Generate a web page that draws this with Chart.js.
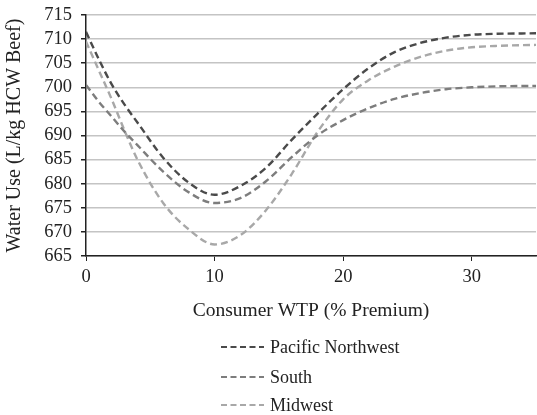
<!DOCTYPE html>
<html>
<head>
<meta charset="utf-8">
<script src="https://cdn.jsdelivr.net/npm/chart.js@4.4.1/dist/chart.umd.min.js"></script>
<style>
  html, body { margin: 0; padding: 0; background: #fff; }
  #wrap { width: 537px; height: 415px; position: relative; }
</style>
</head>
<body>
<div id="wrap"><canvas id="waterChart"></canvas></div>
<script>
// Consumer WTP (% premium)
const wtp = [0, 1, 2, 3, 4, 6, 8, 10, 12, 14, 16, 18, 20, 22, 24, 26, 28, 30, 32, 35];

// water use (L/kg HCW beef) per region
const pacificNorthwest = [711.5, 705.8, 700.6, 696.4, 692.7, 685.4, 680.2, 677.7, 679.5, 683.3, 689.1, 694.5, 699.6, 704.0, 707.3, 709.2, 710.3, 710.9, 711.1, 711.2];
const south = [700.5, 697.0, 693.9, 690.8, 688.0, 682.5, 678.2, 676.0, 677.0, 680.5, 685.5, 690.0, 693.2, 695.7, 697.6, 698.8, 699.6, 700.0, 700.2, 700.3];
const midwest = [709.5, 703.5, 697.5, 691.0, 685.0, 676.0, 670.5, 667.4, 669.3, 674.5, 682.0, 690.7, 697.5, 701.5, 704.3, 706.3, 707.6, 708.3, 708.6, 708.8];

const regionNames = ['Pacific Northwest', 'South', 'Midwest'];
const regionColors = ['#4a4a4a', '#7d7d7d', '#a8a8a8'];

const serif = '"Liberation Serif", "DejaVu Serif", serif';

function toPoints(vals) {
  return wtp.map((x, i) => ({ x: x, y: vals[i] }));
}

// legend stacked under the x axis title
const stackedLegend = {
  id: 'stackedLegend',
  afterDraw(chart) {
    const ctx = chart.ctx;
    const rows = [347, 377, 405];
    ctx.save();
    chart.data.datasets.forEach((ds, i) => {
      const y = rows[i];
      ctx.strokeStyle = ds.borderColor;
      ctx.lineWidth = 2.2;
      ctx.setLineDash([6, 3.5]);
      ctx.beginPath();
      ctx.moveTo(221, y);
      ctx.lineTo(264, y);
      ctx.stroke();
      ctx.setLineDash([]);
      ctx.fillStyle = '#222';
      ctx.font = '18px ' + serif;
      ctx.textBaseline = 'middle';
      ctx.textAlign = 'left';
      ctx.fillText(ds.label, 270, y + 1);
    });
    ctx.restore();
  }
};

const ctx = document.getElementById('waterChart').getContext('2d');

new Chart(ctx, {
  type: 'line',
  data: {
    datasets: [
      { label: regionNames[0], data: toPoints(pacificNorthwest) },
      { label: regionNames[1], data: toPoints(south) },
      { label: regionNames[2], data: toPoints(midwest) }
    ].map((ds, i) => Object.assign(ds, {
      borderColor: regionColors[i],
      backgroundColor: regionColors[i],
      borderWidth: 2.4,
      borderDash: [7, 4],
      pointRadius: 0,
      cubicInterpolationMode: 'monotone',
      fill: false
    }))
  },
  options: {
    responsive: true,
    maintainAspectRatio: false,
    animation: false,
    layout: { padding: { top: 15, right: 1, bottom: 92, left: 0 } },
    plugins: {
      legend: { display: false },
      tooltip: { enabled: false }
    },
    scales: {
      x: {
        type: 'linear',
        min: 0,
        max: 35,
        afterBuildTicks: (scale) => {
          scale.ticks = scale.ticks.filter(t => t.value % 10 === 0);
        },
        afterFit: (scale) => {
          scale.height = 67;
          scale.paddingLeft = 0;
          scale.paddingRight = 0;
        },
        ticks: {
          stepSize: 10,
          autoSkip: false,
          maxRotation: 0,
          color: '#222',
          padding: 5,
          font: { family: serif, size: 18.5 }
        },
        grid: {
          drawOnChartArea: false,
          tickLength: 5,
          tickColor: '#222'
        },
        border: { color: '#222', width: 1.5 },
        title: {
          display: true,
          text: 'Consumer WTP (% Premium)',
          color: '#222',
          font: { family: serif, size: 19.5 },
          padding: { top: 0, bottom: 0 }
        }
      },
      y: {
        min: 665,
        max: 715,
        afterFit: (scale) => {
          scale.width = 86;
          scale.paddingTop = 0;
          scale.paddingBottom = 0;
        },
        ticks: {
          stepSize: 5,
          autoSkip: false,
          color: '#222',
          padding: 9,
          font: { family: serif, size: 18.5 }
        },
        grid: {
          color: '#c4c4c4',
          lineWidth: 1.5,
          tickLength: 5,
          tickColor: '#222'
        },
        border: { color: '#222', width: 1.5 },
        title: {
          display: true,
          text: 'Water Use (L/kg HCW Beef)',
          color: '#222',
          font: { family: serif, size: 20 },
          padding: { top: 3, bottom: 0 }
        }
      }
    }
  },
  plugins: [stackedLegend]
});
</script>
</body>
</html>
